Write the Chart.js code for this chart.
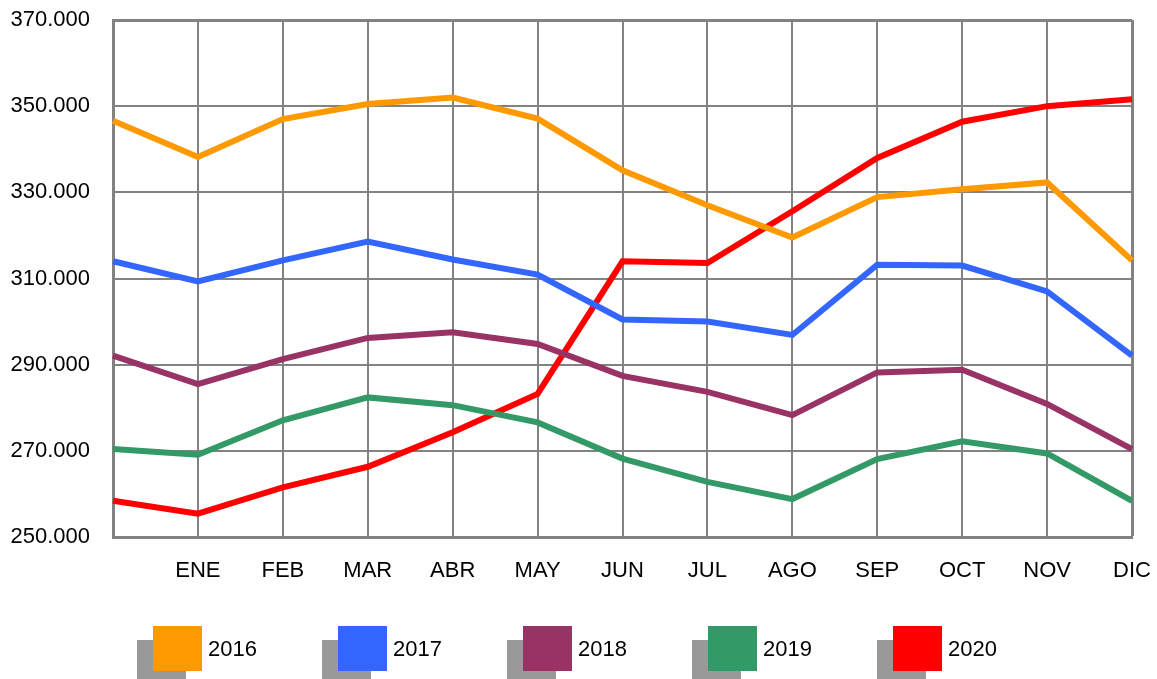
<!DOCTYPE html>
<html lang="es">
<head>
<meta charset="utf-8">
<title>Serie mensual 2016 - 2020</title>
<script src="https://cdn.jsdelivr.net/npm/chart.js@4/dist/chart.umd.min.js"></script>
<style>
    html, body { margin: 0; padding: 0; background: #fff; }
    #wrap { width: 1157px; height: 679px; position: relative; }
</style>
</head>
<body>
<div id="wrap"><canvas id="chart"></canvas></div>
<script>
    // categorias (el primer punto no lleva etiqueta)
    const MESES = ['', 'ENE', 'FEB', 'MAR', 'ABR', 'MAY', 'JUN', 'JUL', 'AGO', 'SEP', 'OCT', 'NOV', 'DIC'];

    const ANIOS = ['2016', '2017', '2018', '2019', '2020'];

    const VALORES_2016 = [346600, 338200, 347000, 350500, 352000, 347100, 335100, 327000, 319500, 328900, 330700, 332300, 314200];
    const VALORES_2017 = [314000, 309300, 314200, 318600, 314400, 310900, 300500, 300000, 296900, 313200, 313000, 307000, 292100];
    const VALORES_2018 = [292100, 285500, 291300, 296200, 297500, 294800, 287400, 283700, 278300, 288200, 288800, 280900, 270400];
    const VALORES_2019 = [270400, 269100, 277100, 282400, 280600, 276600, 268200, 262800, 258800, 268100, 272200, 269400, 258400];
    const VALORES_2020 = [258400, 255400, 261500, 266300, 274300, 283200, 314000, 313600, 325600, 338000, 346400, 350000, 351600];

    const EJE_Y_TICKS = [250000, 270000, 290000, 310000, 330000, 350000, 370000];

    const COLORES = ['#FF9900', '#3366FF', '#993366', '#339966', '#FF0000'];

    const FUENTE = '"Liberation Sans", Arial, sans-serif';
    const GRIS = '#828282';

    /** 370000 -> "370.000" */
    function formatoMiles(v) {
        return String(Math.round(v)).replace(/\B(?=(\d{3})+(?!\d))/g, '.');
    }

    /** Leyenda con cuadro de color y sombra gris */
    const leyendaPlugin = {
        id: 'leyendaSombra',
        afterDraw(chart) {
            const ctx = chart.ctx;
            ctx.save();
            ctx.font = '22px ' + FUENTE;
            ctx.textBaseline = 'middle';
            ctx.textAlign = 'left';
            chart.data.datasets.forEach((ds, i) => {
                const x = 153 + i * 185;
                const y = 626;
                ctx.fillStyle = '#999999';
                ctx.fillRect(x - 16, y + 14, 49, 45);
                ctx.fillStyle = ds.borderColor;
                ctx.fillRect(x, y, 49, 45);
                ctx.fillStyle = '#000';
                ctx.fillText(ds.label, x + 55, y + 24);
            });
            ctx.restore();
        }
    };

    const datasets = [VALORES_2016, VALORES_2017, VALORES_2018, VALORES_2019, VALORES_2020].map((vals, i) => ({
        label: ANIOS[i],
        data: vals,
        borderColor: COLORES[i],
        backgroundColor: COLORES[i],
        borderWidth: 6,
        pointRadius: 0,
        tension: 0,
        fill: false
    }));

    new Chart(document.getElementById('chart'), {
        type: 'line',
        data: { labels: MESES, datasets },
        plugins: [leyendaPlugin],
        options: {
            responsive: true,
            maintainAspectRatio: false,
            animation: false,
            layout: { padding: { top: 20, right: 25, left: 0, bottom: 0 } },
            plugins: {
                legend: { display: false },
                tooltip: { enabled: false }
            },
            scales: {
                x: {
                    offset: false,
                    grid: {
                        color: GRIS,
                        lineWidth: (c) => (c.index === MESES.length - 1 ? 3 : 2),
                        drawTicks: false
                    },
                    border: { color: GRIS, width: 3 },
                    ticks: {
                        color: '#000',
                        font: { family: FUENTE, size: 22 },
                        padding: 21,
                        maxRotation: 0,
                        autoSkip: false
                    },
                    afterFit(scale) {
                        scale.height = 142;
                        scale.paddingLeft = 0;
                        scale.paddingRight = 0;
                    }
                },
                y: {
                    min: 250000,
                    max: 370000,
                    afterBuildTicks(scale) {
                        scale.ticks = EJE_Y_TICKS.map(v => ({ value: v }));
                    },
                    grid: {
                        color: GRIS,
                        lineWidth: (c) => (c.tick && c.tick.value === 370000 ? 3 : 2),
                        drawTicks: false
                    },
                    border: { color: GRIS, width: 3 },
                    ticks: {
                        color: '#000',
                        font: { family: FUENTE, size: 22 },
                        padding: 23,
                        callback: (v) => formatoMiles(v)
                    },
                    afterFit(scale) {
                        scale.width = 113;
                        scale.paddingTop = 0;
                        scale.paddingBottom = 0;
                    }
                }
            }
        }
    });
</script>
</body>
</html>
